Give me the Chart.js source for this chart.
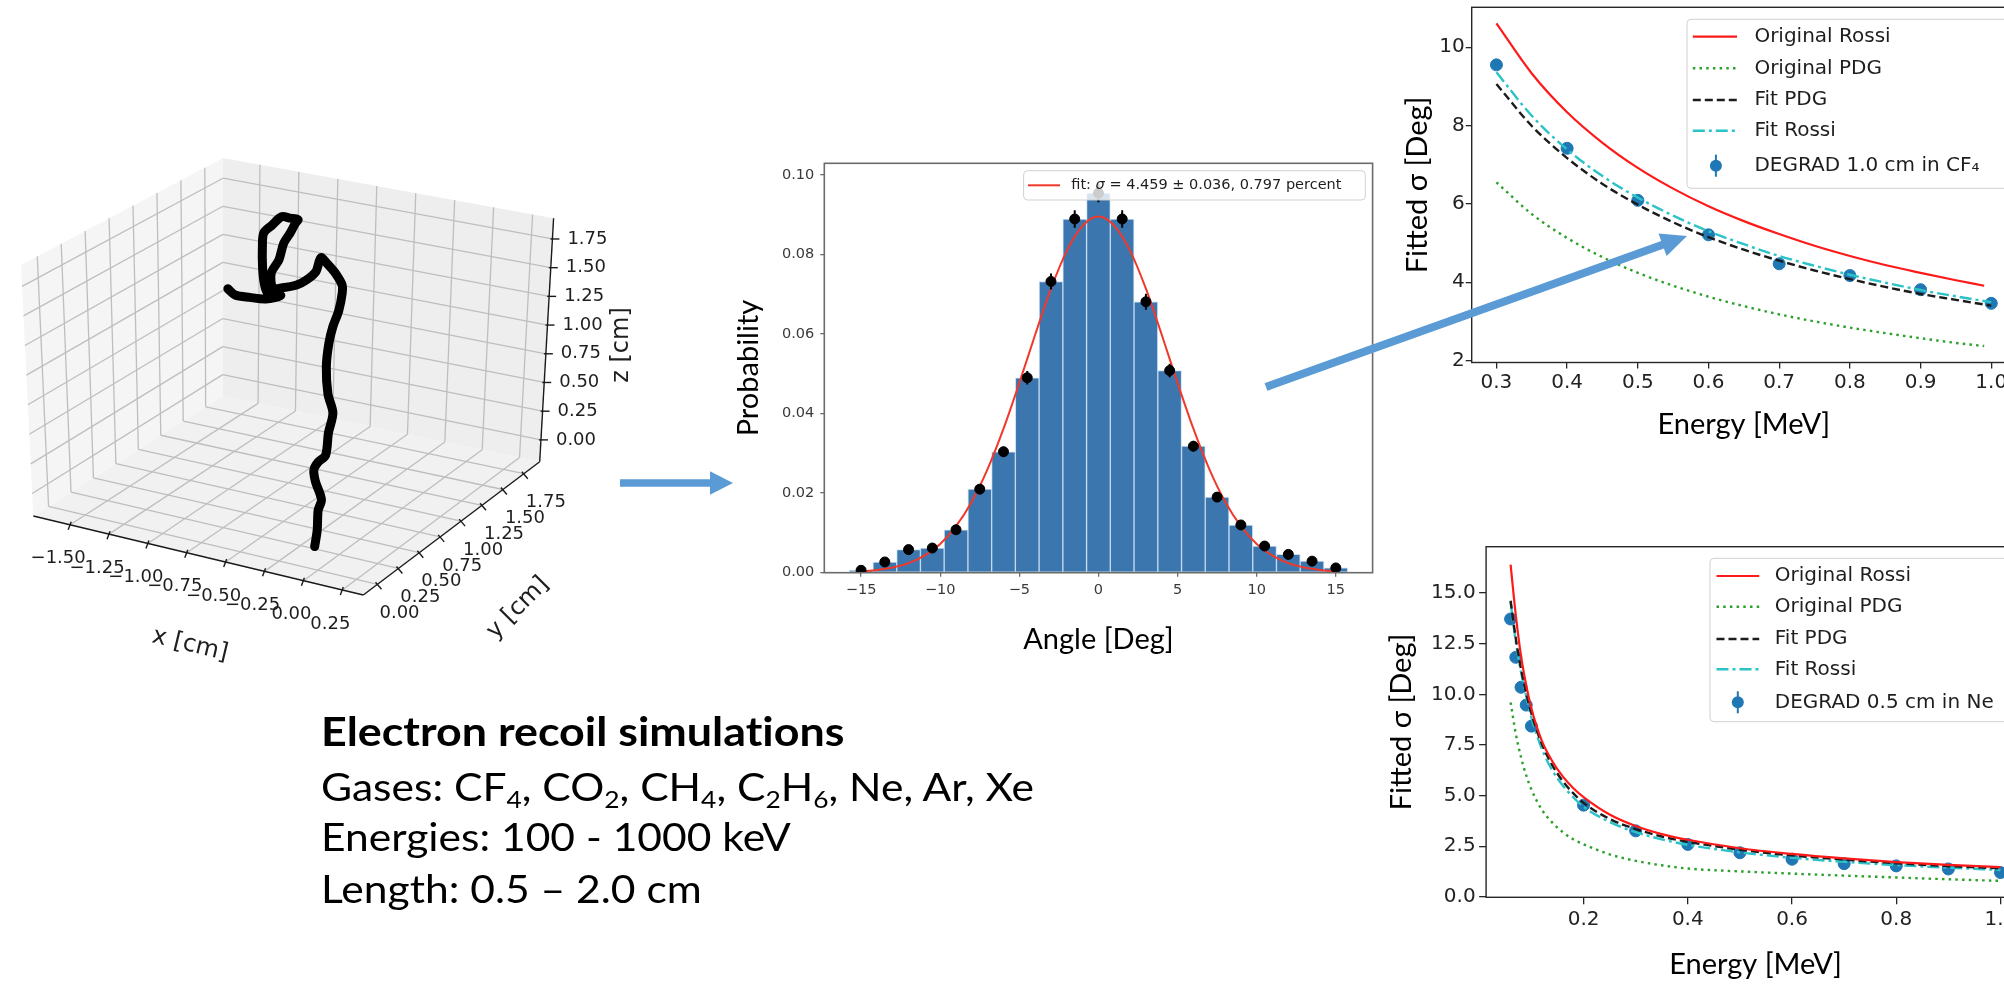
<!DOCTYPE html>
<html>
<head>
<meta charset="utf-8">
<title>Electron recoil simulations</title>
<script src="https://cdn.jsdelivr.net/npm/chart.js@4.4.1/dist/chart.umd.min.js"></script>
<style>
  html, body { margin: 0; padding: 0; background: #fff; }
  body { width: 2004px; height: 989px; position: relative; overflow: hidden; }
  canvas { position: absolute; }
  #track3d { left: 0; top: 0; }
  #hist { left: 700px; top: 140px; }
  #cf4 { left: 1380px; top: 0; }
  #neon { left: 1360px; top: 530px; }
  #arrows { position: absolute; left: 0; top: 0; pointer-events: none; }
  .notes { position: absolute; left: 321px; top: 0; font-family: Lato, sans-serif; color: #000;
           white-space: nowrap; transform-origin: 0 0; transform: scaleX(1.12);
           font-variant-ligatures: none; font-feature-settings: "liga" 0, "dlig" 0; }
  .notes div { position: absolute; left: 0; font-size: 38px; line-height: 38px; }
  .notes .head { font-weight: bold; font-size: 40px; line-height: 40px; }
  .notes sub { font-size: 0.62em; vertical-align: -0.28em; line-height: 0; }
</style>
</head>
<body>
<canvas id="track3d" width="660" height="700"></canvas>
<canvas id="hist" width="700" height="540"></canvas>
<canvas id="cf4" width="700" height="470"></canvas>
<canvas id="neon" width="700" height="459"></canvas>

<div class="notes">
  <div class="head" style="top:711px">Electron recoil simulations</div>
  <div style="top:767px">Gases: CF<sub>4</sub>, CO<sub>2</sub>, CH<sub>4</sub>, C<sub>2</sub>H<sub>6</sub>, Ne, Ar, Xe</div>
  <div style="top:817px">Energies: 100 - 1000 keV</div>
  <div style="top:869px">Length: 0.5 – 2.0 cm</div>
</div>

<svg id="arrows" width="2004" height="989">
  <polygon id="arrowSmall" fill="#5b9bd5"></polygon>
  <polygon id="arrowBig" fill="#5b9bd5"></polygon>
</svg>

<script>
// ---------- simulated electron track, cm ----------
const trackX = [-0.02, -0.02, -0.03, -0.02, -0.07, -0.09, -0.08, -0.06, -0.07, -0.07, -0.13, -0.18, -0.21, -0.23, -0.24,
  -0.27, -0.30, -0.39, -0.48, -0.55, -0.61, -0.70, -0.79, -0.91, -1.00, -1.10, -1.08, -1.08, -1.05, -1.03,
  -1.02, -1.09, -1.16, -1.24, -1.31, -1.33, -1.34, -1.34, -1.33, -1.25, -1.37, -1.50, -1.62, -1.68];
const trackY = [0.00, 0.03, 0.06, 0.08, 0.10, 0.12, 0.15, 0.20, 0.25, 0.30, 0.35, 0.42, 0.50, 0.58, 0.66,
  0.75, 0.80, 0.88, 0.95, 1.00, 1.05, 1.10, 1.15, 1.20, 1.25, 1.40, 1.45, 1.50, 1.52, 1.54,
  1.55, 1.58, 1.61, 1.64, 1.67, 1.69, 1.71, 1.73, 1.75, 1.76, 1.80, 1.84, 1.88, 1.90];
const trackZ = [0.00, 0.12, 0.27, 0.35, 0.48, 0.56, 0.61, 0.65, 0.81, 0.95, 1.07, 1.25, 1.40, 1.50, 1.59,
  1.69, 1.73, 1.77, 1.79, 1.80, 1.64, 1.52, 1.43, 1.35, 1.30, 1.33, 1.43, 1.55, 1.64, 1.72,
  1.75, 1.73, 1.71, 1.60, 1.50, 1.36, 1.17, 1.02, 0.93, 0.92, 0.84, 0.80, 0.77, 0.80];
const xTicks3d = [-1.5, -1.25, -1.0, -0.75, -0.5, -0.25, 0.0, 0.25];
const yTicks3d = [0.0, 0.25, 0.5, 0.75, 1.0, 1.25, 1.5, 1.75];
const zTicks3d = [0.0, 0.25, 0.5, 0.75, 1.0, 1.25, 1.5, 1.75];

// ---------- angular distribution ----------
const angleBins = [-15, -13.5, -12, -10.5, -9, -7.5, -6, -4.5, -3, -1.5, 0, 1.5, 3, 4.5, 6, 7.5, 9, 10.5, 12, 13.5, 15];
const binProb = [0.0006, 0.0027, 0.0058, 0.0062, 0.0108, 0.0210, 0.0304, 0.0490, 0.0732, 0.0889, 0.0954,
  0.0889, 0.0681, 0.0508, 0.0318, 0.0190, 0.0120, 0.0067, 0.0046, 0.0029, 0.0012];
const binErr = [0.0002, 0.0004, 0.0006, 0.0006, 0.0008, 0.0011, 0.0013, 0.0017, 0.0020, 0.0022, 0.0023,
  0.0022, 0.0020, 0.0017, 0.0013, 0.0010, 0.0008, 0.0006, 0.0005, 0.0004, 0.0003];
const fitAngle = [-15, -14, -13, -12, -11, -10, -9, -8, -7, -6, -5, -4, -3, -2, -1, 0,
  1, 2, 3, 4, 5, 6, 7, 8, 9, 10, 11, 12, 13, 14, 15];
const fitProb = [0.0003, 0.0007, 0.0013, 0.0024, 0.0043, 0.0072, 0.0117, 0.0179, 0.0261, 0.0362, 0.0477,
  0.0598, 0.0714, 0.0809, 0.0872, 0.0895, 0.0872, 0.0809, 0.0714, 0.0598, 0.0477, 0.0362, 0.0261, 0.0179,
  0.0117, 0.0072, 0.0043, 0.0024, 0.0013, 0.0007, 0.0003];
const fitLabel = ['fit: ', 'σ', ' = 4.459 ± 0.036, 0.797 percent'];
const histXTicks = [-15, -10, -5, 0, 5, 10, 15];
const histYTicks = [0, 0.02, 0.04, 0.06, 0.08, 0.10];

// ---------- CF4, 1.0 cm ----------
const cf4Energy = [0.3, 0.4, 0.5, 0.6, 0.7, 0.8, 0.9, 1.0];
const cf4Sigma = [9.55, 7.42, 6.09, 5.21, 4.47, 4.17, 3.81, 3.46];
const cf4Err = [0.10, 0.08, 0.07, 0.06, 0.06, 0.05, 0.05, 0.05];
const cf4OrigE = [0.30, 0.35, 0.40, 0.45, 0.50, 0.55, 0.60, 0.65, 0.70, 0.75, 0.80, 0.85, 0.90, 0.95, 0.99];
const cf4RossiOrig = [10.61, 9.33, 8.34, 7.56, 6.92, 6.39, 5.94, 5.56, 5.23, 4.93, 4.67, 4.44, 4.24, 4.05, 3.91];
const cf4PdgOrig = [6.55, 5.74, 5.13, 4.64, 4.24, 3.91, 3.63, 3.39, 3.18, 3.00, 2.84, 2.70, 2.57, 2.45, 2.37];
const cf4FitE = [0.30, 0.35, 0.40, 0.45, 0.50, 0.55, 0.60, 0.65, 0.70, 0.75, 0.80, 0.85, 0.90, 0.95, 1.00];
const cf4PdgFit = [9.06, 7.99, 7.17, 6.51, 5.98, 5.53, 5.15, 4.83, 4.55, 4.30, 4.08, 3.88, 3.70, 3.55, 3.40];
const cf4RossiFit = [9.36, 8.25, 7.39, 6.71, 6.16, 5.70, 5.30, 4.97, 4.67, 4.42, 4.19, 3.99, 3.80, 3.64, 3.49];
const cf4XTicks = [0.3, 0.4, 0.5, 0.6, 0.7, 0.8, 0.9, 1.0];
const cf4YTicks = [2, 4, 6, 8, 10];

// ---------- Ne, 0.5 cm ----------
const neEnergy = [0.06, 0.07, 0.08, 0.09, 0.10, 0.2, 0.3, 0.4, 0.5, 0.6, 0.7, 0.8, 0.9, 1.0];
const neSigma = [13.72, 11.83, 10.35, 9.47, 8.43, 4.53, 3.26, 2.59, 2.18, 1.86, 1.64, 1.53, 1.38, 1.20];
const neErr = [0.25, 0.20, 0.18, 0.16, 0.15, 0.08, 0.06, 0.05, 0.05, 0.04, 0.04, 0.04, 0.04, 0.04];
const neCurveE = [0.06, 0.07, 0.08, 0.09, 0.10, 0.12, 0.14, 0.16, 0.18, 0.20, 0.25, 0.30, 0.35, 0.40,
  0.50, 0.60, 0.70, 0.80, 0.90, 1.00];
const neRossiOrig = [16.4, 13.9, 11.9, 10.45, 9.3, 7.7, 6.7, 5.95, 5.38, 4.93, 4.07, 3.5, 3.1, 2.82,
  2.4, 2.12, 1.9, 1.72, 1.58, 1.47];
const nePdgOrig = [9.6, 8.05, 6.9, 6.0, 5.3, 4.3, 3.67, 3.2, 2.85, 2.6, 2.1, 1.78, 1.56, 1.4,
  1.26, 1.15, 1.05, 0.96, 0.87, 0.79];
const nePdgFit = [14.62, 12.75, 11.25, 10.05, 9.05, 7.55, 6.5, 5.72, 5.12, 4.64, 3.85, 3.35, 2.98, 2.72,
  2.33, 2.05, 1.84, 1.66, 1.52, 1.41];
const neRossiFit = [14.55, 12.6, 11.1, 9.9, 8.85, 7.3, 6.25, 5.5, 4.92, 4.45, 3.7, 3.2, 2.84, 2.57,
  2.2, 1.93, 1.73, 1.57, 1.44, 1.33];
const neXTicks = [0.2, 0.4, 0.6, 0.8, 1.0];
const neYTicks = [0, 2.5, 5, 7.5, 10, 12.5, 15];

Chart.defaults.font.family = "'DejaVu Sans'";

const pts = (xs, ys) => xs.map((x, i) => ({x: x, y: ys[i]}));
const minus = s => s.replace('-', '\u2212');

const common = {
  responsive: false,
  animation: false,
  devicePixelRatio: 1,
  events: []
};

// pin the scale boxes so the plot area lands where it should
function fixBox(width, height) {
  return function (scale) {
    if (width != null) scale.width = width;
    if (height != null) scale.height = height;
    scale.paddingLeft = scale.paddingRight = scale.paddingTop = scale.paddingBottom = 0;
  };
}

function axis(opts) {
  return {
    type: 'linear',
    min: opts.min,
    max: opts.max,
    offset: false,
    afterBuildTicks: s => { s.ticks = opts.ticks.map(v => ({value: v})); },
    ticks: {
      callback: opts.format,
      font: {family: "'DejaVu Sans'", size: opts.fontSize},
      color: opts.color,
      padding: opts.pad,
      autoSkip: false,
      maxRotation: 0,
      minRotation: 0
    },
    grid: {drawOnChartArea: false, offset: false, tickLength: opts.tick, color: opts.tickColor, lineWidth: 1.3},
    border: {display: false},
    title: {display: true, text: opts.title, color: '#000', padding: 0,
            font: {family: 'Lato', size: 29, lineHeight: 1}},
    afterFit: fixBox(opts.width, opts.height)
  };
}

const frame = {
  id: 'frame',
  afterDatasetsDraw(chart, args, o) {
    const {ctx, chartArea: a} = chart;
    ctx.save();
    ctx.strokeStyle = o.color || '#222';
    ctx.lineWidth = o.width || 1.4;
    ctx.strokeRect(a.left, a.top, a.right - a.left, a.bottom - a.top);
    ctx.restore();
  }
};

const errorBars = {
  id: 'errorBars',
  beforeDatasetDraw(chart, args, o) {
    const ds = chart.data.datasets[args.index];
    if (!ds.errors) return;
    const {ctx, scales: {x, y}} = chart;
    ctx.save();
    ctx.strokeStyle = ds.backgroundColor;
    ctx.lineWidth = o.width || 2;
    ds.data.forEach((p, i) => {
      const px = x.getPixelForValue(p.x);
      ctx.beginPath();
      ctx.moveTo(px, y.getPixelForValue(p.y - ds.errors[i]));
      ctx.lineTo(px, y.getPixelForValue(p.y + ds.errors[i]));
      ctx.stroke();
    });
    ctx.restore();
  }
};

// matplotlib-style legend box inside the axes
const boxLegend = {
  id: 'boxLegend',
  afterDraw(chart, args, o) {
    if (!o.box) return;
    const ctx = chart.ctx;
    const [bx, by, bw, bh] = o.box;
    ctx.save();
    ctx.beginPath();
    ctx.roundRect(bx, by, bw, bh, 4);
    ctx.fillStyle = 'rgba(255,255,255,0.8)';
    ctx.fill();
    ctx.strokeStyle = 'rgba(204,204,204,0.9)';
    ctx.lineWidth = 1;
    ctx.stroke();
    const items = chart.data.datasets.filter(d => d.label);
    items.forEach((d, i) => {
      const y = o.rows[i];
      if (d.showLine !== false && !d.errors) {
        ctx.setLineDash(d.borderDash || []);
        ctx.strokeStyle = d.borderColor;
        ctx.lineWidth = d.borderWidth;
        ctx.beginPath();
        ctx.moveTo(o.sample[0], y);
        ctx.lineTo(o.sample[1], y);
        ctx.stroke();
        ctx.setLineDash([]);
      } else {
        ctx.strokeStyle = d.backgroundColor;
        ctx.lineWidth = 2;
        ctx.beginPath();
        ctx.moveTo(o.marker, y - 11);
        ctx.lineTo(o.marker, y + 11);
        ctx.stroke();
        ctx.fillStyle = d.backgroundColor;
        ctx.beginPath();
        ctx.arc(o.marker, y, d.pointRadius, 0, Math.PI * 2);
        ctx.fill();
      }
      ctx.fillStyle = '#1e1e1e';
      ctx.textBaseline = 'middle';
      ctx.textAlign = 'left';
      const parts = Array.isArray(d.label) ? d.label : [d.label];
      let x = o.textX;
      parts.forEach((t, k) => {
        ctx.font = (parts.length > 1 && k === 1 ? 'italic ' : '') + o.fontSize + "px 'DejaVu Sans'";
        ctx.fillText(t, x, y);
        x += ctx.measureText(t).width;
      });
    });
    ctx.restore();
  }
};

// ---------- 3D view ----------
const X_LIM = [-1.737, 0.385], Y_LIM = [-0.17, 1.94], Z_LIM = [-0.19, 1.93];
// screen corners of the box: (xmin,ymin) (xmax,ymin) (xmax,ymax) (xmin,ymax)
const FLOOR = [[33.3, 516], [363.3, 595], [539.7, 461.7], [222.7, 396]];
const CEIL = [[21, 265], [364, 338], [553.6, 218.3], [223, 158]];

function project(x, y, z) {
  const u = (x - X_LIM[0]) / (X_LIM[1] - X_LIM[0]);
  const v = (y - Y_LIM[0]) / (Y_LIM[1] - Y_LIM[0]);
  const w = (z - Z_LIM[0]) / (Z_LIM[1] - Z_LIM[0]);
  const k = [(1 - u) * (1 - v), u * (1 - v), u * v, (1 - u) * v];
  const mix = (c, i) => k[0] * c[0][i] + k[1] * c[1][i] + k[2] * c[2][i] + k[3] * c[3][i];
  const fx = mix(FLOOR, 0), fy = mix(FLOOR, 1), tx = mix(CEIL, 0), ty = mix(CEIL, 1);
  return {x: fx + (tx - fx) * w, y: fy + (ty - fy) * w};
}

const axes3d = {
  id: 'axes3d',
  beforeDatasetsDraw(chart) {
    const {ctx, scales} = chart;
    const P = (x, y, z) => {
      const p = project(x, y, z);
      return [scales.x.getPixelForValue(p.x), scales.y.getPixelForValue(p.y)];
    };
    const [x0, x1] = X_LIM, [y0, y1] = Y_LIM, [z0, z1] = Z_LIM;
    const poly = (list, fill) => {
      ctx.beginPath();
      list.forEach((p, i) => (i ? ctx.lineTo(p[0], p[1]) : ctx.moveTo(p[0], p[1])));
      ctx.closePath();
      ctx.fillStyle = fill;
      ctx.fill();
    };
    const seg = (a, b) => {
      ctx.beginPath();
      ctx.moveTo(a[0], a[1]);
      ctx.lineTo(b[0], b[1]);
      ctx.stroke();
    };
    ctx.save();
    poly([P(x0, y0, z0), P(x1, y0, z0), P(x1, y1, z0), P(x0, y1, z0)], '#f1f1f1');
    poly([P(x0, y0, z0), P(x0, y1, z0), P(x0, y1, z1), P(x0, y0, z1)], '#f5f5f5');
    poly([P(x0, y1, z0), P(x1, y1, z0), P(x1, y1, z1), P(x0, y1, z1)], '#eeeeee');

    ctx.strokeStyle = '#bebebe';
    ctx.lineWidth = 1.3;
    xTicks3d.forEach(v => { seg(P(v, y0, z0), P(v, y1, z0)); seg(P(v, y1, z0), P(v, y1, z1)); });
    yTicks3d.forEach(v => { seg(P(x0, v, z0), P(x1, v, z0)); seg(P(x0, v, z0), P(x0, v, z1)); });
    zTicks3d.forEach(v => { seg(P(x0, y0, v), P(x0, y1, v)); seg(P(x0, y1, v), P(x1, y1, v)); });

    ctx.strokeStyle = '#1a1a1a';
    ctx.lineWidth = 1.4;
    seg(P(x0, y0, z0), P(x1, y0, z0));
    seg(P(x1, y0, z0), P(x1, y1, z0));
    seg(P(x1, y1, z0), P(x1, y1, z1));

    ctx.font = "18px 'DejaVu Sans'";
    ctx.fillStyle = '#1e1e1e';
    ctx.textBaseline = 'middle';
    const fmt = v => minus(v.toFixed(2));
    ctx.textAlign = 'center';
    xTicks3d.forEach(v => {
      const p = P(v, y0, z0);
      seg([p[0] + 1, p[1] - 3], [p[0] - 2, p[1] + 5]);
      ctx.fillText(fmt(v), p[0] - 12, p[1] + 34);
    });
    yTicks3d.forEach(v => {
      const p = P(x1, v, z0);
      seg([p[0] - 2, p[1] - 2], [p[0] + 4, p[1] + 5]);
      ctx.fillText(fmt(v), p[0] + 22, p[1] + 29);
    });
    ctx.textAlign = 'left';
    zTicks3d.forEach(v => {
      const p = P(x1, y1, v);
      seg([p[0] - 2, p[1]], [p[0] + 7, p[1]]);
      ctx.fillText(fmt(v), p[0] + 15, p[1]);
    });

    ctx.font = "24px 'DejaVu Sans'";
    ctx.textAlign = 'center';
    [['x [cm]', 190, 645, 13.5], ['y [cm]', 518, 608, -45], ['z [cm]', 622, 345, -90]].forEach(([t, x, y, r]) => {
      ctx.save();
      ctx.translate(x, y);
      ctx.rotate(r * Math.PI / 180);
      ctx.fillText(t, 0, 0);
      ctx.restore();
    });
    ctx.restore();
  }
};

new Chart(document.getElementById('track3d'), {
  type: 'scatter',
  data: {
    datasets: [{
      data: trackX.map((x, i) => project(x, trackY[i], trackZ[i])),
      showLine: true,
      borderColor: '#000',
      borderWidth: 9,
      pointRadius: 0,
      tension: 0.3,
      borderCapStyle: 'round',
      borderJoinStyle: 'round'
    }]
  },
  options: {
    ...common,
    layout: {padding: 0},
    plugins: {legend: {display: false}, tooltip: {enabled: false}},
    scales: {
      x: {type: 'linear', display: false, min: 0, max: 660},
      y: {type: 'linear', display: false, min: 0, max: 700, reverse: true}
    }
  },
  plugins: [axes3d]
});

// ---------- histogram ----------
new Chart(document.getElementById('hist'), {
  type: 'bar',
  data: {
    datasets: [
      {
        type: 'bar',
        data: pts(angleBins, binProb),
        backgroundColor: 'rgb(59,118,175)',
        borderColor: 'rgba(160,195,228,0.55)',
        borderWidth: 1,
        borderSkipped: false,
        barPercentage: 1,
        categoryPercentage: 1,
        order: 3
      },
      {
        type: 'line',
        label: fitLabel,
        data: pts(fitAngle, fitProb),
        borderColor: '#f0392b',
        borderWidth: 2,
        pointRadius: 0,
        cubicInterpolationMode: 'monotone',
        order: 2
      },
      {
        type: 'scatter',
        data: pts(angleBins, binProb),
        backgroundColor: '#000',
        borderColor: '#000',
        pointRadius: 5,
        errors: binErr,
        order: 1
      }
    ]
  },
  options: {
    ...common,
    layout: {padding: {left: 33.7, right: 27.4, top: 23.3, bottom: 26}},
    plugins: {
      legend: {display: false},
      tooltip: {enabled: false},
      frame: {color: '#6b6b6b', width: 1.6},
      boxLegend: {box: [323.6, 30.7, 341.7, 29.3], rows: [45.3], sample: [328, 360], textX: 371.3, fontSize: 14.5}
    },
    scales: {
      x: axis({min: -17.325, max: 17.325, ticks: histXTicks, format: v => minus(String(v)), fontSize: 14.5,
               color: '#3a3a3a', pad: 5, tick: 4, tickColor: '#6b6b6b', title: 'Angle [Deg]', height: 81.3}),
      y: axis({min: 0, max: 0.1029, ticks: histYTicks, format: v => v.toFixed(2), fontSize: 14.5,
               color: '#3a3a3a', pad: 6, tick: 4, tickColor: '#6b6b6b', title: 'Probability', width: 90.6})
    }
  },
  plugins: [errorBars, frame, boxLegend]
});

// ---------- sigma vs energy ----------
function sigmaChart(id, cfg) {
  const line = (label, xs, ys, color, dash, width) => ({
    label: label, data: pts(xs, ys), showLine: true, borderColor: color, borderDash: dash,
    borderWidth: width, pointRadius: 0, cubicInterpolationMode: 'monotone', order: 1
  });
  new Chart(document.getElementById(id), {
    type: 'scatter',
    data: {
      datasets: [
        line('Original Rossi', cfg.origE, cfg.rossiOrig, '#ff1a1a', [], 2.2),
        line('Original PDG', cfg.origE, cfg.pdgOrig, '#2ca02c', [2.5, 4.2], 2.4),
        line('Fit PDG', cfg.fitE, cfg.pdgFit, '#1c1c1c', [8, 4], 2.4),
        line('Fit Rossi', cfg.fitE, cfg.rossiFit, '#2bc3c8', [12, 4, 3, 4], 2.4),
        {
          label: cfg.dataLabel, data: pts(cfg.energy, cfg.sigma), backgroundColor: '#1f77b4',
          borderColor: '#1f77b4', pointRadius: 6, errors: cfg.err, order: 5
        }
      ]
    },
    options: {
      ...common,
      layout: {padding: cfg.padding},
      plugins: {
        legend: {display: false},
        tooltip: {enabled: false},
        frame: {color: '#262626', width: 1.4},
        boxLegend: cfg.legend
      },
      scales: {
        x: axis({min: cfg.xRange[0], max: cfg.xRange[1], ticks: cfg.xTicks, format: v => v.toFixed(1), fontSize: 20,
                 color: '#222', pad: cfg.xPad, tick: cfg.tick, tickColor: '#262626', title: 'Energy [MeV]',
                 height: cfg.xHeight}),
        y: axis({min: cfg.yRange[0], max: cfg.yRange[1], ticks: cfg.yTicks, format: cfg.yFormat, fontSize: 20,
                 color: '#222', pad: cfg.yPad, tick: cfg.tick, tickColor: '#262626', title: 'Fitted σ [Deg]',
                 width: cfg.yWidth})
      }
    },
    plugins: [errorBars, frame, boxLegend]
  });
}

sigmaChart('cf4', {
  energy: cf4Energy, sigma: cf4Sigma, err: cf4Err,
  origE: cf4OrigE, rossiOrig: cf4RossiOrig, pdgOrig: cf4PdgOrig,
  fitE: cf4FitE, pdgFit: cf4PdgFit, rossiFit: cf4RossiFit,
  dataLabel: 'DEGRAD 1.0 cm in CF\u2084',
  xRange: [0.265, 1.035], yRange: [1.95, 11.02], xTicks: cf4XTicks, yTicks: cf4YTicks,
  yFormat: v => String(v),
  padding: {left: 23.5, right: 64, top: 7.3, bottom: 30.5},
  xHeight: 77, yWidth: 68.2, tick: 6, xPad: 2.5, yPad: 1,
  legend: {box: [307, 19.3, 322, 169], rows: [36.7, 68.3, 100, 130.7, 165.7], sample: [312.8, 357],
           marker: 335.9, textX: 374.4, fontSize: 20}
});

sigmaChart('neon', {
  energy: neEnergy, sigma: neSigma, err: neErr,
  origE: neCurveE, rossiOrig: neRossiOrig, pdgOrig: nePdgOrig,
  fitE: neCurveE, pdgFit: nePdgFit, rossiFit: neRossiFit,
  dataLabel: 'DEGRAD 0.5 cm in Ne',
  xRange: [0.013, 1.047], yRange: [-0.02, 17.29], xTicks: neXTicks, yTicks: neYTicks,
  yFormat: v => v.toFixed(1),
  padding: {left: 27.5, right: 35, top: 16.7, bottom: 9.5},
  xHeight: 82.2, yWidth: 98.6, tick: 7, xPad: 3.7, yPad: 3.5,
  legend: {box: [350, 28.3, 308, 163.4], rows: [46, 76.7, 109, 139.3, 172.3], sample: [356.5, 399.2],
           marker: 377.8, textX: 414.8, fontSize: 20}
});

// ---------- arrows ----------
function arrowPoints(x1, y1, x2, y2, shaft, headLen, headHalf) {
  const len = Math.hypot(x2 - x1, y2 - y1);
  const dx = (x2 - x1) / len, dy = (y2 - y1) / len;
  const nx = -dy, ny = dx;
  const bx = x2 - dx * headLen, by = y2 - dy * headLen;
  return [
    [x1 + nx * shaft, y1 + ny * shaft], [bx + nx * shaft, by + ny * shaft],
    [bx + nx * headHalf, by + ny * headHalf], [x2, y2],
    [bx - nx * headHalf, by - ny * headHalf], [bx - nx * shaft, by - ny * shaft],
    [x1 - nx * shaft, y1 - ny * shaft]
  ].map(p => p[0].toFixed(1) + ',' + p[1].toFixed(1)).join(' ');
}
document.getElementById('arrowSmall').setAttribute('points', arrowPoints(620, 483, 733, 483, 3.7, 23, 11.7));
document.getElementById('arrowBig').setAttribute('points', arrowPoints(1266, 387, 1687, 236, 4, 26, 12));
</script>
</body>
</html>
